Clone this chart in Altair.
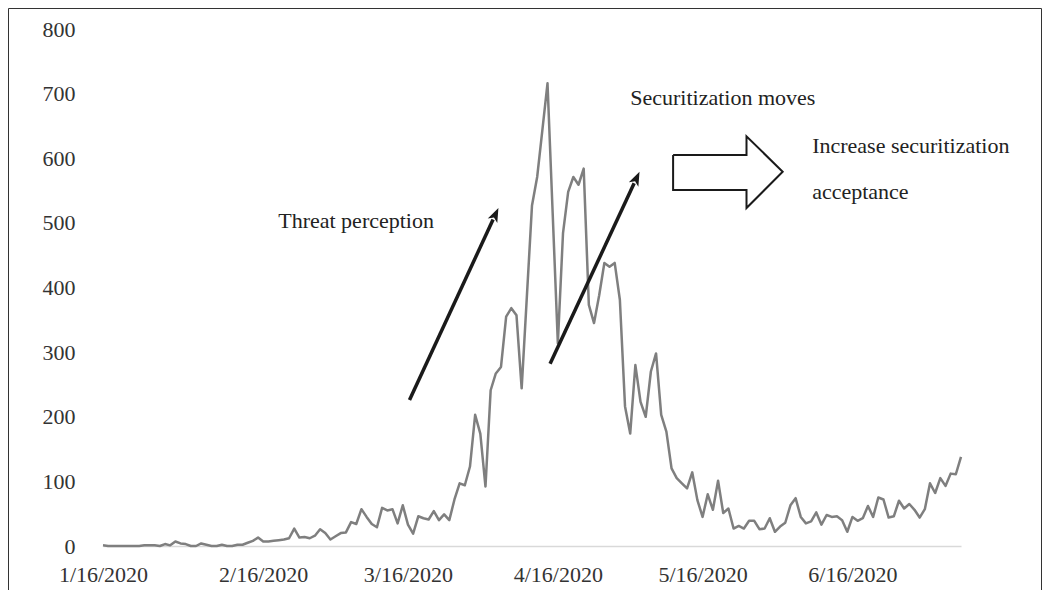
import json
import math
import altair as alt
import pandas as pd

# ---- data (daily counts) ----
values = [
    1, 0, 0, 0, 0, 0, 0, 0, 1, 1,
    1, 0, 3, 1, 7, 4, 3, 0, 0, 4,
    2, 0, 0, 2, 0, 0, 2, 2, 5, 8,
    13, 7, 7, 8, 9, 10, 12, 27, 13, 14,
    12, 16, 26, 20, 10, 15, 20, 21, 37, 34,
    57, 45, 34, 29, 59, 55, 57, 35, 63, 33,
    19, 46, 43, 41, 54, 40, 49, 40, 72, 97,
    94, 123, 203, 174, 92, 241, 267, 277, 355, 368,
    357, 244, 385, 527, 571, 643, 716, 515, 314, 484,
    548, 571, 559, 584, 373, 345, 388, 438, 432, 438,
    381, 216, 174, 280, 223, 200, 270, 298, 203, 177,
    120, 105, 97, 89, 114, 71, 45, 80, 56, 101,
    51, 58, 27, 31, 27, 39, 39, 26, 27, 43,
    22, 30, 36, 63, 74, 45, 35, 38, 52, 33,
    48, 45, 46, 40, 22, 45, 39, 43, 62, 45,
    75, 72, 44, 46, 70, 58, 65, 56, 44, 57,
    97, 82, 105, 93, 112, 111, 138,
]
tick_index = [0, 31, 59, 88, 116, 145]
tick_labels = ["1/16/2020", "2/16/2020", "3/16/2020", "4/16/2020", "5/16/2020", "6/16/2020"]
y_ticks = [0, 100, 200, 300, 400, 500, 600, 700, 800]

# annotation arrows (data units: day index, value)
arrow_x0 = [59.3, 86.5]
arrow_y0 = [226, 282]
arrow_x1 = [76.5, 103.8]
arrow_y1 = [523, 579]

# block arrow outline (data units)
block_x = [110.3, 124.5, 124.5, 131.5, 124.5, 124.5, 110.3, 110.3]
block_y = [605, 605, 634, 579, 523, 551, 551, 605]

note_text = ["Threat perception", "Securitization moves", "Increase securitization", "acceptance"]
note_x = [33.9, 102.0, 137.2, 137.2]
note_y = [503, 693, 619, 548]

# ---- layout ----
W, H = 858, 517
PAD = {"left": 95, "top": 21, "right": 81, "bottom": 44}
X_MAX = len(values) - 1
Y_MAX = 800
FONT = "Liberation Serif"

sx = W / X_MAX
sy = H / Y_MAX

xs = alt.Scale(domain=[0, X_MAX], nice=False, zero=False)
ys = alt.Scale(domain=[0, Y_MAX], nice=False)

label_expr = "%s[indexof(%s, datum.value)]" % (json.dumps(tick_labels), json.dumps(tick_index))

df = pd.DataFrame({"i": list(range(len(values))), "v": values})

line = alt.Chart(df).mark_line(color="#7f7f7f", strokeWidth=2.5, strokeJoin="round").encode(
    x=alt.X("i:Q", scale=xs, axis=alt.Axis(
        values=tick_index, labelExpr=label_expr, title=None, grid=False,
        ticks=False, tickSize=0, domainColor="#d9d9d9", domainWidth=1.5,
        labelFont=FONT, labelFontSize=22, labelColor="#333333",
        labelPadding=18, labelFlush=False, labelOverlap=False)),
    y=alt.Y("v:Q", scale=ys, axis=alt.Axis(
        values=y_ticks, title=None, grid=False, ticks=False, tickSize=0,
        domain=False, labelFont=FONT, labelFontSize=22, labelColor="#333333",
        labelPadding=28, labelOverlap=False)),
)

# arrows: shaft ends slightly before the tip, head drawn at the tip
rows = []
for x0, y0, x1, y1 in zip(arrow_x0, arrow_y0, arrow_x1, arrow_y1):
    dx = (x1 - x0) * sx
    dy = -(y1 - y0) * sy
    ang = math.degrees(math.atan2(dx, -dy)) % 360
    rows.append({"x0": x0, "y0": y0,
                 "xe": x0 + 0.94 * (x1 - x0), "ye": y0 + 0.94 * (y1 - y0),
                 "x1": x1, "y1": y1, "ang": ang})
adf = pd.DataFrame(rows)

shafts = alt.Chart(adf).mark_rule(color="#1a1a1a", strokeWidth=3.5, strokeCap="butt").encode(
    x=alt.X("x0:Q", scale=xs), y=alt.Y("y0:Q", scale=ys),
    x2="xe:Q", y2="ye:Q",
)
heads = alt.Chart(adf).mark_point(
    shape="M0,0 L0.75,2 L0,1.5 L-0.75,2 Z", filled=True, color="#1a1a1a",
    opacity=1, size=196, strokeWidth=0,
).encode(
    x=alt.X("x1:Q", scale=xs), y=alt.Y("y1:Q", scale=ys),
    angle=alt.Angle("ang:Q", scale=None),
)

bdf = pd.DataFrame({"bx": block_x, "by": block_y, "o": list(range(len(block_x)))})
block = alt.Chart(bdf).mark_line(color="#1a1a1a", strokeWidth=2, strokeJoin="miter").encode(
    x=alt.X("bx:Q", scale=xs), y=alt.Y("by:Q", scale=ys), order="o:Q",
)

ndf = pd.DataFrame({"t": note_text, "nx": note_x, "ny": note_y})
notes = alt.Chart(ndf).mark_text(
    align="left", baseline="middle", font=FONT, fontSize=22, color="#222222"
).encode(
    x=alt.X("nx:Q", scale=xs), y=alt.Y("ny:Q", scale=ys), text="t:N",
)

frame = alt.Chart(pd.DataFrame({"a": [0]})).mark_rect(
    filled=False, stroke="#333333", strokeWidth=1
).encode(
    x=alt.value(-PAD["left"] + 0.5),
    x2=alt.value(W + PAD["right"] - 0.5),
    y=alt.value(-PAD["top"] + 0.5),
    y2=alt.value(H + PAD["bottom"] + 40),
)

chart = alt.layer(frame, line, shafts, heads, block, notes).properties(
    width=W, height=H, padding=PAD,
    autosize=alt.AutoSizeParams(type="none"),
    background="white",
).configure_view(strokeWidth=0)

chart.save("out.html", embed_options={"renderer": "svg", "actions": False})
